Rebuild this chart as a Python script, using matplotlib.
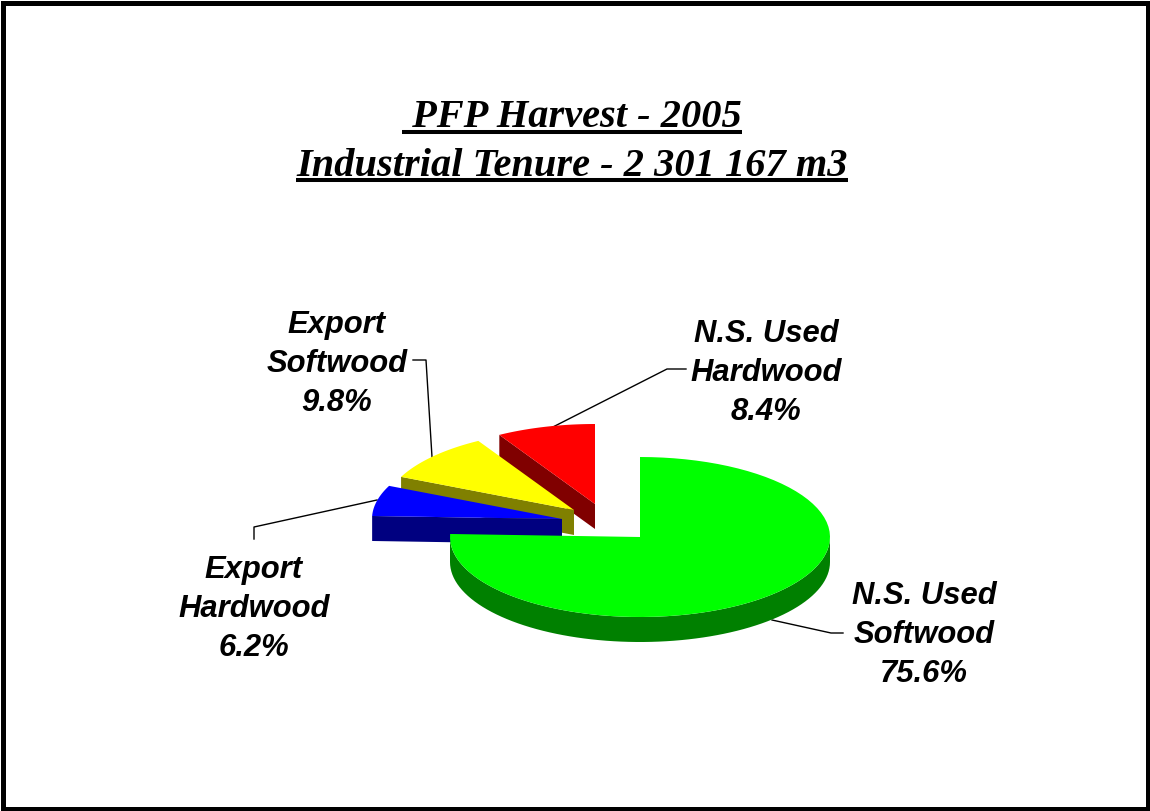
import numpy as np
import matplotlib
matplotlib.use("Agg")
from matplotlib import pyplot as plt
from matplotlib.patches import Polygon, Rectangle

title_lines = [" PFP Harvest - 2005", "Industrial Tenure - 2 301 167 m3"]
# clockwise from 12 o'clock
names = ["N.S. Used\nSoftwood", "Export\nHardwood", "Export\nSoftwood", "N.S. Used\nHardwood"]
shares = [75.6, 6.2, 9.8, 8.4]
top_colors = ["#00FF00", "#0000FF", "#FFFF00", "#FF0000"]
side_colors = ["#008000", "#000080", "#808000", "#800000"]

# everything below is in image pixels
RX, RY, DEPTH = 190, 80, 25
centers = [(640, 537), (562, 519), (574, 510), (595, 504)]
label_pos = [(924, 635), (254, 609), (337, 364), (766, 373)]
leaders = [
    [(772, 620), (831, 633), (843, 633)],
    [(254, 539), (254, 527), (377, 500)],
    [(413, 360), (426, 360), (432, 457)],
    [(686, 369), (667, 369), (547, 430)],
]


def rim(cx, cy, a0, a1, dy=0):
    t = np.radians(np.linspace(a0, a1, 80))
    return np.column_stack([cx + RX * np.cos(t), cy - RY * np.sin(t) + dy])


def draw_slice(ax, center, a0, a1, top, side):
    cx, cy = center
    # radial face on the lower edge
    if np.cos(np.radians(a1)) < -0.01:
        edge = rim(cx, cy, a1, a1)[0]
        ax.add_patch(Polygon([(cx, cy), edge, edge + (0, DEPTH), (cx, cy + DEPTH)],
                             fc=side, ec="none"))
    # outer wall, only the front half of the ellipse shows
    lo, hi = max(a0, -180), min(a1, 0)
    if hi > lo:
        arc = rim(cx, cy, lo, hi)
        ax.add_patch(Polygon(np.vstack([arc, rim(cx, cy, hi, lo, DEPTH)]),
                             fc=side, ec="none"))
    ax.add_patch(Polygon(np.vstack([[(cx, cy)], rim(cx, cy, a0, a1)]), fc=top, ec="none"))


fig = plt.figure(figsize=(11.5, 8.11), dpi=100)
ax = fig.add_axes([0, 0, 1, 1])
ax.set_xlim(0, 1150)
ax.set_ylim(811, 0)
ax.axis("off")

ax.add_patch(Rectangle((2.5, 2.5), 1145, 806, fc="white", ec="black", lw=3.6))

# slices get drawn back to front
spans = []
start = 90.0
for s in shares:
    sweep = s * 3.6
    spans.append((start - sweep, start))
    start -= sweep
for i in [3, 2, 1, 0]:
    a0, a1 = spans[i]
    if i > 0:
        a0, a1 = a0 + 360, a1 + 360
    xs, ys = zip(*leaders[i])
    ax.plot(xs, ys, color="black", lw=1.0, zorder=1)
    draw_slice(ax, centers[i], a0, a1, top_colors[i], side_colors[i])

for name, s, (x, y) in zip(names, shares, label_pos):
    ax.text(x, y, f"{name}\n{s}%", ha="center", va="center", multialignment="center",
            family="Liberation Sans", weight="bold", style="italic", fontsize=22.3,
            linespacing=1.37)

renderer = fig.canvas.get_renderer()
for line, base, under in zip(title_lines, [127, 176], [132, 180]):
    t = ax.text(572, base, line, ha="center", va="baseline", family="Liberation Serif",
                weight="bold", style="italic", fontsize=29.1)
    box = t.get_window_extent(renderer)
    ax.plot([box.x0, box.x1], [under, under], color="black", lw=2.9, solid_capstyle="butt")

fig.savefig("out.png", dpi=100)
